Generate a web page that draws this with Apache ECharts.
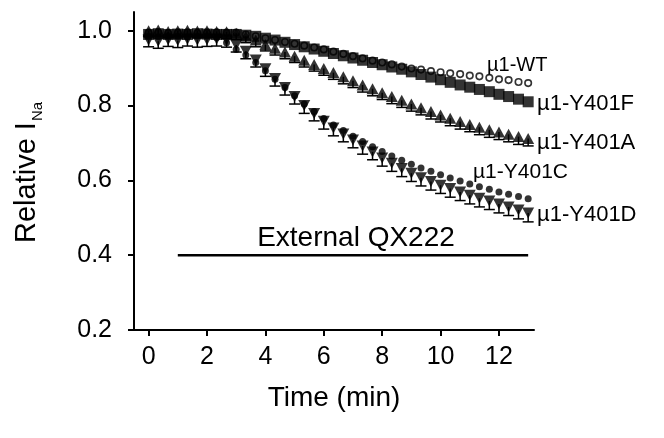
<!DOCTYPE html>
<html><head><meta charset="utf-8">
<script src="https://cdn.jsdelivr.net/npm/echarts@6/dist/echarts.min.js"></script>
<style>html,body{margin:0;padding:0;background:#fff}#c{width:664px;height:438px}</style>
</head><body><div id="c"></div>
<script>
// time (min), sampled every 20 s
const time = [0,0.33,0.67,1,1.33,1.67,2,2.33,2.67,3,3.33,3.67,4,4.33,4.67,5,5.33,5.67,6,6.33,6.67,7,7.33,7.67,8,8.33,8.67,9,9.33,9.67,10,10.33,10.67,11,11.33,11.67,12,12.33,12.67,13];
const wt   = [0.995,0.996,0.994,0.995,0.996,0.994,0.995,0.996,0.995,0.995,0.99,0.985,0.98,0.975,0.97,0.965,0.96,0.955,0.95,0.944,0.938,0.932,0.926,0.92,0.915,0.91,0.904,0.899,0.896,0.892,0.889,0.886,0.884,0.88,0.878,0.874,0.87,0.868,0.863,0.86];
const y401F = [0.99,0.992,0.99,0.991,0.99,0.992,0.991,0.99,0.99,0.99,0.988,0.985,0.98,0.975,0.969,0.963,0.957,0.951,0.945,0.939,0.933,0.927,0.921,0.915,0.909,0.903,0.897,0.89,0.883,0.876,0.869,0.862,0.855,0.849,0.843,0.837,0.83,0.824,0.817,0.81];
const y401A = [1.0,1.002,0.998,1.0,1.001,0.999,1.0,0.998,0.997,0.993,0.985,0.975,0.963,0.953,0.943,0.932,0.921,0.91,0.899,0.888,0.877,0.866,0.855,0.845,0.834,0.824,0.814,0.804,0.794,0.784,0.775,0.766,0.757,0.749,0.742,0.735,0.729,0.723,0.717,0.712];
const errA = [0.016,0.016,0.017,0.016,0.017,0.016,0.017,0.016,0.017,0.017,0.017,0.018,0.017,0.018,0.018,0.017,0.018,0.018,0.018,0.018,0.019,0.018,0.019,0.019,0.018,0.019,0.019,0.019,0.019,0.02,0.019,0.02,0.02,0.019,0.02,0.02,0.02,0.02,0.021,0.02];
const y401C = [0.985,0.984,0.986,0.985,0.984,0.985,0.986,0.982,0.968,0.95,0.935,0.915,0.893,0.87,0.848,0.826,0.804,0.784,0.765,0.748,0.733,0.718,0.704,0.69,0.677,0.665,0.654,0.643,0.633,0.624,0.615,0.606,0.598,0.59,0.583,0.576,0.569,0.563,0.557,0.551];
const y401D = [0.975,0.972,0.976,0.974,0.977,0.975,0.976,0.978,0.975,0.962,0.945,0.922,0.898,0.872,0.848,0.824,0.8,0.779,0.758,0.74,0.724,0.708,0.692,0.676,0.66,0.646,0.632,0.619,0.607,0.597,0.587,0.578,0.569,0.56,0.552,0.545,0.537,0.529,0.521,0.513];
const errD = [0.018,0.019,0.018,0.019,0.018,0.019,0.018,0.019,0.019,0.019,0.02,0.019,0.02,0.02,0.02,0.02,0.021,0.02,0.021,0.021,0.021,0.021,0.022,0.021,0.022,0.022,0.022,0.022,0.022,0.023,0.022,0.023,0.023,0.023,0.023,0.023,0.024,0.023,0.024,0.024];
const qxTime = [1, 13];
const qxLevel = [0.4, 0.4];
const xTicks = [0,2,4,6,8,10,12];
const yTicks = [0.2,0.4,0.6,0.8,1.0];
const seriesNames = ['\u00b51-WT','\u00b51-Y401F','\u00b51-Y401A','\u00b51-Y401C','\u00b51-Y401D'];

const FONT = '"Liberation Sans", Arial, Helvetica, sans-serif';
const pts = v => time.map((t,i)=>[t, v[i]]);
const ptsErr = (v,e) => time.map((t,i)=>[t, v[i], e[i]]);

function errRender(params, api){
  const x = api.value(0), y = api.value(1), e = api.value(2);
  const p = api.coord([x,y]);
  const pl = api.coord([x,y-e]);
  return {type:'group', children:[
    {type:'line', shape:{x1:p[0],y1:p[1],x2:pl[0],y2:pl[1]}, style:{stroke:'#000',lineWidth:1.5}},
    {type:'line', shape:{x1:pl[0]-5.5,y1:pl[1],x2:pl[0]+5.5,y2:pl[1]}, style:{stroke:'#000',lineWidth:1.5}}
  ]};
}
function label(text, x, y, size, align){
  return {type:'text', x:x, y:y, style:{text:text, font:size+'px '+FONT, fill:'#000', textAlign:align||'left', textVerticalAlign:'middle'}};
}

const chart = echarts.init(document.getElementById('c'), null, {renderer:'canvas'});
chart.setOption({
  animation:false,
  backgroundColor:'#fff',
  textStyle:{fontFamily:FONT},
  grid:{left:134, right:130, top:12, bottom:108, containLabel:false},
  xAxis:{type:'value', min:-0.5, max:13.2,
    axisLine:{show:true, onZero:false, lineStyle:{color:'#000', width:2}},
    axisTick:{show:true, length:6, lineStyle:{color:'#000', width:2}, customValues:xTicks},
    axisLabel:{color:'#000', fontSize:25, fontFamily:FONT, margin:15, customValues:xTicks, formatter:v=>String(v)},
    splitLine:{show:false}},
  yAxis:{type:'value', min:0.2, max:1.05,
    axisLine:{show:true, onZero:false, lineStyle:{color:'#000', width:2}},
    axisTick:{show:true, length:6, lineStyle:{color:'#000', width:2}, customValues:yTicks},
    axisLabel:{color:'#000', fontSize:25, fontFamily:FONT, margin:22, customValues:yTicks, formatter:v=>v.toFixed(1)},
    splitLine:{show:false}},
  series:[
    {name:seriesNames[0], type:'scatter', data:pts(wt), symbol:'circle', symbolSize:6.5,
      itemStyle:{color:'#fff', borderColor:'#000', borderWidth:1.6}, z:2},
    {name:seriesNames[1], type:'scatter', data:pts(y401F), symbol:'rect', symbolSize:11,
      itemStyle:{color:'#000'}, z:3},
    {type:'custom', data:ptsErr(y401A,errA), renderItem:errRender, z:3},
    {name:seriesNames[2], type:'scatter', data:pts(y401A), symbol:'triangle', symbolSize:[12,11],
      itemStyle:{color:'#000'}, z:4},
    {name:seriesNames[3], type:'scatter', data:pts(y401C), symbol:'circle', symbolSize:7,
      itemStyle:{color:'#000'}, z:3},
    {type:'custom', data:ptsErr(y401D,errD), renderItem:errRender, z:3},
    {name:seriesNames[4], type:'scatter', data:pts(y401D), symbol:'triangle', symbolRotate:180, symbolSize:[12,11],
      itemStyle:{color:'#000'}, z:4},
    {type:'line', data:qxTime.map((t,i)=>[t,qxLevel[i]]), symbol:'none',
      lineStyle:{color:'#000', width:2.5}, z:2}
  ],
  graphic:[
    label(seriesNames[0], 487, 65, 20),
    label(seriesNames[1], 537, 104, 22),
    label(seriesNames[2], 537, 143, 22),
    label(seriesNames[3], 473, 172, 21),
    label(seriesNames[4], 537, 215, 22),
    label('External QX222', 356, 238, 28, 'center'),
    label('Time (min)', 334, 398, 28, 'center'),
    {type:'group', x:41, y:243, rotation:Math.PI/2, children:[
      {type:'text', x:0, y:0, style:{text:'Relative I', font:'29px '+FONT, fill:'#000', textVerticalAlign:'bottom', textAlign:'left'}},
      {type:'text', x:122, y:4, style:{text:'Na', font:'15px '+FONT, fill:'#000', textVerticalAlign:'bottom', textAlign:'left'}}
    ]}
  ]
});
</script></body></html>
